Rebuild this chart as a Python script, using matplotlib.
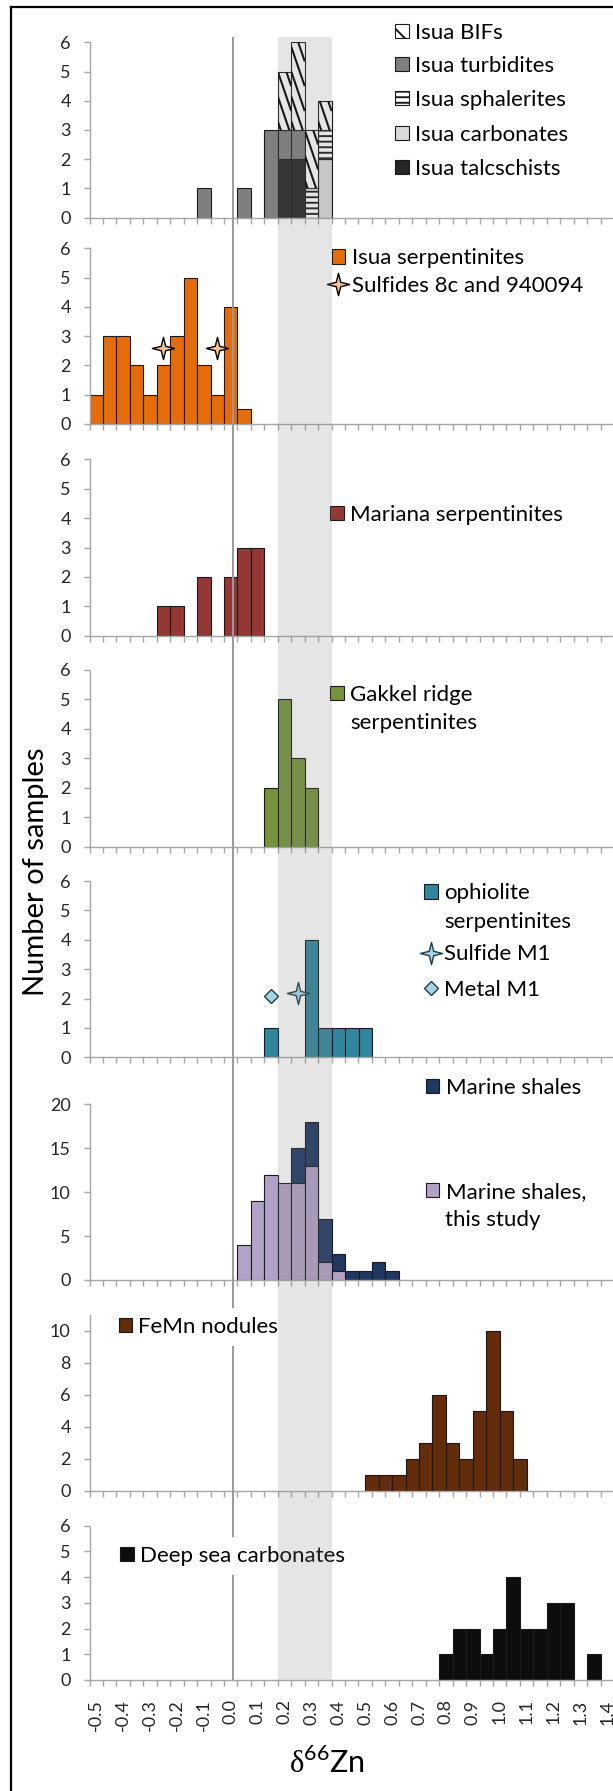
import matplotlib
matplotlib.use("Agg")
import matplotlib.pyplot as plt
import numpy as np
from matplotlib.lines import Line2D
from matplotlib.patches import Patch
from matplotlib.path import Path

plt.rcParams["font.family"] = ["Lato", "DejaVu Sans"]
plt.rcParams["hatch.linewidth"] = 1.4
plt.rcParams["mathtext.fontset"] = "custom"
plt.rcParams["mathtext.rm"] = "Liberation Serif"
plt.rcParams["mathtext.sf"] = "Lato"

# ---- data: d66Zn bin centres (bin width 0.05) and sample counts ----
BIN_W = 0.05
X_TICK_LABELS = ["-0.5", "-0.4", "-0.3", "-0.2", "-0.1", "0.0", "0.1", "0.2", "0.3", "0.4",
                 "0.5", "0.6", "0.7", "0.8", "0.9", "1.0", "1.1", "1.2", "1.3", "1.4"]

ISUA_X = [-0.1, 0.05, 0.15, 0.2, 0.25, 0.3, 0.35]
ISUA_TALC = [0, 0, 0, 2, 2, 0, 0]
ISUA_CARB = [0, 0, 0, 0, 0, 0, 2]
ISUA_SPHAL = [0, 0, 0, 0, 0, 1, 1]
ISUA_TURB = [1, 1, 3, 1, 1, 0, 0]
ISUA_BIF = [0, 0, 0, 2, 3, 2, 1]

SERP_X = [-0.5, -0.45, -0.4, -0.35, -0.3, -0.25, -0.2, -0.15, -0.1, -0.05, 0.0, 0.05]
SERP_N = [1, 3, 3, 2, 1, 2, 3, 5, 2, 1, 4, 0.5]
SULF_X = [-0.25, -0.05]
SULF_Y = [2.6, 2.6]

MAR_X = [-0.25, -0.2, -0.1, 0.0, 0.05, 0.1]
MAR_N = [1, 1, 2, 2, 3, 3]

GAK_X = [0.15, 0.2, 0.25, 0.3]
GAK_N = [2, 5, 3, 2]

OPH_X = [0.15, 0.3, 0.35, 0.4, 0.45, 0.5]
OPH_N = [1, 4, 1, 1, 1, 1]
SULF_M1_X, SULF_M1_Y = [0.25], [2.2]
METAL_M1_X, METAL_M1_Y = [0.15], [2.1]

SHALE_X = [0.25, 0.3, 0.35, 0.4, 0.45, 0.5, 0.55, 0.6]
SHALE_N = [15, 18, 7, 3, 1, 1, 2, 1]
SHALE_TS_X = [0.05, 0.1, 0.15, 0.2, 0.25, 0.3, 0.35, 0.4]
SHALE_TS_N = [4, 9, 12, 11, 11, 13, 2, 1]

FEMN_X = [0.525, 0.575, 0.625, 0.675, 0.725, 0.775, 0.825, 0.875, 0.925, 0.975, 1.025, 1.075]
FEMN_N = [1, 1, 1, 2, 3, 6, 3, 2, 5, 10, 5, 2]

DSC_X = [0.8, 0.85, 0.9, 0.95, 1.0, 1.05, 1.1, 1.15, 1.2, 1.25, 1.35]
DSC_N = [1, 2, 2, 1, 2, 4, 2, 2, 3, 3, 1]

BAND = (0.175, 0.375)   # shaded reference range
ZERO_REF = 0.01         # vertical reference line

# ---- colours ----
EDGE = "#1a1a1a"
AXC = "#a6a6a6"
C_TALC, C_CARB, C_TURB = "#262626", "#d9d9d9", "#7f7f7f"
C_SERP, C_SULF = "#e46c0a", "#fac090"
C_MAR, C_GAK, C_OPH = "#953735", "#77933c", "#31859c"
C_M1, C_M1_EDGE = "#a5d5e5", "#1f3c4a"
C_SHALE, C_SHALE_TS = "#1f3864", "#b3a2c7"
C_FEMN, C_DSC = "#632c0a", "#0d0d0d"

# ---- layout (pixels) ----
W, H, DPI = 613, 1791, 100
X_LO, X_HI = -0.525, 1.425
PX_UNIT = 269.0
AX_LEFT = 89.5
AX_W = (X_HI - X_LO) * PX_UNIT
PANEL_PX = [(42.3, 217.7), (248.3, 424.0), (459.3, 635.7), (670.0, 846.7),
            (881.0, 1057.3), (1104.3, 1280.0), (1315.0, 1490.7), (1525.7, 1680.0)]
TICK_FS, LEG_FS = 13, 16
FS_PX = LEG_FS * DPI / 72
HL, HTP = 0.62, 0.28


def fx(x): return x / W
def fy(y): return 1 - y / H


fig = plt.figure(figsize=(W / DPI, H / DPI), dpi=DPI)
fig.patch.set_facecolor("white")

axes = []
for top, bot in PANEL_PX:
    axes.append(fig.add_axes([fx(AX_LEFT), fy(bot), AX_W / W, (bot - top) / H]))


def style(ax, ymax, yticks, labels=False):
    ax.set_xlim(X_LO, X_HI)
    ax.set_ylim(0, ymax)
    ax.set_yticks(yticks)
    ax.patch.set_alpha(0)
    for s in ("top", "right"):
        ax.spines[s].set_visible(False)
    for s in ("left", "bottom"):
        ax.spines[s].set_color(AXC)
        ax.spines[s].set_linewidth(1.0)
    ax.tick_params(axis="y", length=4.5, width=1.0, color=AXC, labelsize=TICK_FS,
                   labelcolor="#262626", pad=9)
    ax.set_xticks([float(t) for t in X_TICK_LABELS])
    ax.set_xticklabels(X_TICK_LABELS if labels else [], rotation=90)
    ax.set_xticks(np.arange(X_LO, X_HI + 0.001, BIN_W), minor=True)
    ax.tick_params(axis="x", which="major", length=0, labelsize=TICK_FS,
                   labelcolor="#262626", pad=14)
    ax.tick_params(axis="x", which="minor", length=4.5, width=1.0, color=AXC)


def bars(ax, x, n, bottom=None, **kw):
    x = np.asarray(x, float)
    n = np.asarray(n, float)
    b = np.zeros_like(n) if bottom is None else np.asarray(bottom, float)
    m = n > 0
    return ax.bar(x[m], n[m], bottom=b[m], width=BIN_W, edgecolor=EDGE, linewidth=0.8,
                  zorder=2, **kw)


def steep_stripes(ax, rects, step=0.85, drop=1.35, lw=1.5):
    # Excel-like wide downward diagonal pattern, clipped to each bar
    for r in rects:
        x0, y0 = r.get_x(), r.get_y()
        x1, y1 = x0 + r.get_width(), y0 + r.get_height()
        for s in np.arange(y0 + 0.3, y1 + drop, step):
            ln, = ax.plot([x0, x1], [s, s - drop], color="black", lw=lw, zorder=2.5,
                          solid_capstyle="butt")
            ln.set_clip_path(r)


w = 0.2
STAR4 = Path([(0, 1), (w, w), (1, 0), (w, -w), (0, -1), (-w, -w), (-1, 0), (-w, w), (0, 1)],
             [Path.MOVETO] + [Path.LINETO] * 7 + [Path.CLOSEPOLY])

# panel 1: Isua, stacked
isua = [("Isua talcschists", ISUA_TALC, dict(color=C_TALC)),
        ("Isua carbonates", ISUA_CARB, dict(color=C_CARB)),
        ("Isua sphalerites", ISUA_SPHAL, dict(color="white", hatch="---")),
        ("Isua turbidites", ISUA_TURB, dict(color=C_TURB)),
        ("Isua BIFs", ISUA_BIF, dict(color="white"))]
bottom = np.zeros(len(ISUA_X))
for name, vals, kw in isua:
    cont = bars(axes[0], ISUA_X, vals, bottom=bottom, **kw)
    if name == "Isua BIFs":
        steep_stripes(axes[0], cont.patches)
    bottom = bottom + np.asarray(vals, float)
style(axes[0], 6, range(0, 7))

# panel 2: Isua serpentinites
bars(axes[1], SERP_X, SERP_N, color=C_SERP)
axes[1].plot(SULF_X, SULF_Y, ls="none", marker=STAR4, ms=16, mfc=C_SULF, mec="black", mew=1.0, zorder=4)
style(axes[1], 6, range(0, 7))

bars(axes[2], MAR_X, MAR_N, color=C_MAR)
style(axes[2], 6, range(0, 7))

bars(axes[3], GAK_X, GAK_N, color=C_GAK)
style(axes[3], 6, range(0, 7))

bars(axes[4], OPH_X, OPH_N, color=C_OPH)
axes[4].plot(SULF_M1_X, SULF_M1_Y, ls="none", marker=STAR4, ms=16, mfc=C_M1, mec=C_M1_EDGE, mew=1.0, zorder=4)
axes[4].plot(METAL_M1_X, METAL_M1_Y, ls="none", marker="D", ms=7.5, mfc=C_M1, mec=C_M1_EDGE, mew=1.0, zorder=4)
style(axes[4], 6, range(0, 7))

bars(axes[5], SHALE_X, SHALE_N, color=C_SHALE)
bars(axes[5], SHALE_TS_X, SHALE_TS_N, color=C_SHALE_TS)
style(axes[5], 20, range(0, 21, 5))

bars(axes[6], FEMN_X, FEMN_N, color=C_FEMN)
style(axes[6], 11, range(0, 11, 2))

bars(axes[7], DSC_X, DSC_N, color=C_DSC)
style(axes[7], 6, range(0, 7), labels=True)

# reference line (under legends) and shaded band (over everything)
ref_top = PANEL_PX[0][0] - 5.6
ref_bot = PANEL_PX[-1][1]
ov_line = fig.add_axes([fx(AX_LEFT), 0, AX_W / W, 1], zorder=1)
ov_line.set_xlim(X_LO, X_HI)
ov_line.set_ylim(H, 0)
ov_line.axis("off")
ov_line.vlines(ZERO_REF, ref_top, ref_bot, color="#9a9a9a", lw=1.4)

ov_band = fig.add_axes([fx(AX_LEFT), 0, AX_W / W, 1], zorder=6)
ov_band.set_xlim(X_LO, X_HI)
ov_band.set_ylim(H, 0)
ov_band.axis("off")
ov_band.axvspan(BAND[0], BAND[1], ymin=(H - ref_bot) / H, ymax=(H - ref_top) / H,
                color="#808080", alpha=0.2, lw=0)


def sq(color, hatch=None):
    return Patch(facecolor=color, edgecolor=EDGE, linewidth=0.8, hatch=hatch)


def entry(handle, label, x_px, y_px, box=False, second=None):
    pad = 0.42 if box else 0.0
    fig.legend([handle], [label], loc="center left",
               bbox_to_anchor=(fx(x_px - pad * FS_PX), fy(y_px)),
               bbox_transform=fig.transFigure, fontsize=LEG_FS, frameon=box,
               borderpad=pad, borderaxespad=0, handlelength=HL, handleheight=HL,
               handletextpad=HTP, facecolor="white", edgecolor="none",
               framealpha=1, fancybox=False)
    if second is not None:
        fig.text(fx(x_px + (HL + HTP) * FS_PX), fy(y_px + 28.3), second,
                 fontsize=LEG_FS, va="center", ha="left")


def star(fc, ec):
    return Line2D([], [], ls="none", marker=STAR4, ms=16, mfc=fc, mec=ec, mew=1.0)


for (label, handle), y in zip([("Isua BIFs", sq("white", "\\")),
                               ("Isua turbidites", sq(C_TURB)),
                               ("Isua sphalerites", sq("white", "---")),
                               ("Isua carbonates", sq(C_CARB)),
                               ("Isua talcschists", sq(C_TALC))],
                              [32.7, 66, 100, 135, 169]):
    entry(handle, label, 395, y)

entry(sq(C_SERP), "Isua serpentinites", 331.6, 258.3)
entry(star(C_SULF, "black"), "Sulfides 8c and 940094", 331.6, 286)
entry(sq(C_MAR), "Mariana serpentinites", 330.4, 515)
entry(sq(C_GAK), "Gakkel ridge", 330.4, 695, second="serpentinites")
entry(sq(C_OPH), "ophiolite", 424, 893.3, second="serpentinites")
entry(star(C_M1, C_M1_EDGE), "Sulfide M1", 424, 954.3)
entry(Line2D([], [], ls="none", marker="D", ms=7.5, mfc=C_M1, mec=C_M1_EDGE, mew=1.0),
      "Metal M1", 424, 990)
entry(sq(C_SHALE), "Marine shales", 425.5, 1087.7)
entry(sq(C_SHALE_TS), "Marine shales,", 425.5, 1191.7, second="this study")
entry(sq(C_FEMN), "FeMn nodules", 118.5, 1327, box=True)
entry(sq(C_DSC), "Deep sea carbonates", 120.4, 1556, box=True)

fig.text(fx(36), fy(872), "Number of samples", rotation=90, fontsize=21,
         ha="center", va="center")
fig.text(fx(327), fy(1762), r"$\mathrm{\delta}^{\mathsf{66}}$Zn", fontsize=22,
         ha="center", va="center")

# outer frame (left and top edges visible in the crop)
fig.add_artist(Line2D([fx(11), fx(11)], [fy(6.7), 0], transform=fig.transFigure, color="black", lw=1.6))
fig.add_artist(Line2D([fx(11), 1], [fy(6.7), fy(6.7)], transform=fig.transFigure, color="black", lw=1.6))

fig.savefig("out.png", dpi=DPI, facecolor="white")
